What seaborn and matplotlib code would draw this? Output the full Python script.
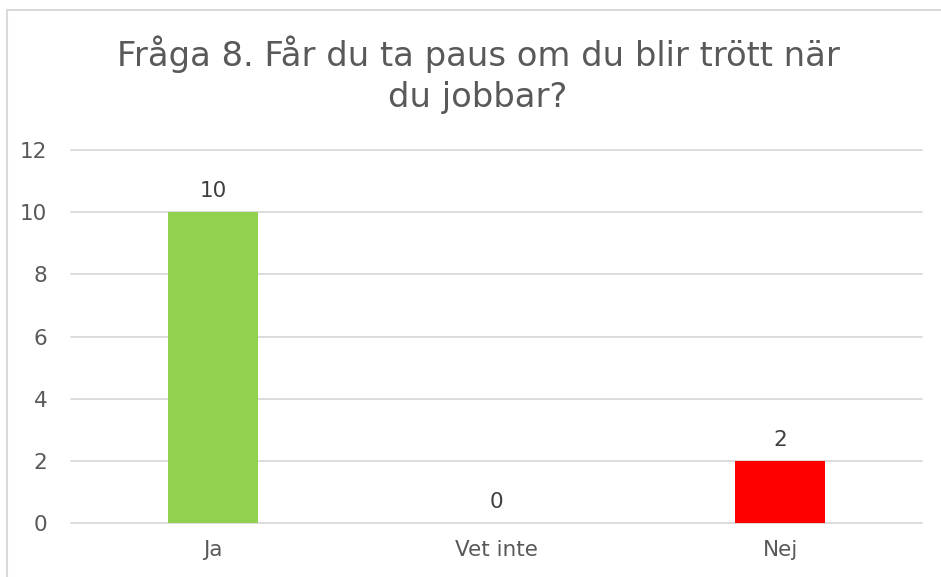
import matplotlib
matplotlib.use("Agg")
import matplotlib.pyplot as plt
import seaborn as sns
import pandas as pd
from matplotlib.patches import Rectangle

categories = ["Ja", "Vet inte", "Nej"]
values = [10, 0, 2]
colors = ["#92D050", "#92D050", "#FF0000"]
yticks = [0, 2, 4, 6, 8, 10, 12]
title_lines = ["Fråga 8. Får du ta paus om du blir trött när", "du jobbar?"]

sns.set_theme(style="white")
plt.rcParams['font.family'] = ['DejaVu Sans']

df = pd.DataFrame({"cat": categories, "val": values})

fig = plt.figure(figsize=(9.41, 5.77), dpi=100)
ax = fig.add_axes([0.0755, 0.0936, 0.9045, 0.6464])
sns.barplot(data=df, x="cat", y="val", hue="cat", palette=colors, legend=False,
            width=0.317, ax=ax, saturation=1, zorder=3, linewidth=0)

ax.set_ylim(0, 12)
ax.set_xlim(-0.5, 2.5)
ax.set_yticks(yticks)
ax.yaxis.grid(True, color="#D9D9D9", linewidth=1.3, zorder=0)
for gl in ax.get_ygridlines():
    gl.set_clip_on(False)
ax.set_axisbelow(True)
for s in ax.spines.values():
    s.set_visible(False)
ax.set_xlabel("")
ax.set_ylabel("")
ax.tick_params(axis="both", length=0, labelsize=15.5, labelcolor="#595959")
ax.tick_params(axis="y", pad=17)
ax.tick_params(axis="x", pad=12)

for i, v in enumerate(values):
    ax.annotate(str(v), (i, v), xytext=(0, 8), textcoords="offset points",
                ha="center", va="bottom", fontsize=15.5, color="#404040")

fig.text(0.508, 1 - 54/577, title_lines[0], ha="center", va="center", fontsize=24.3,
         color="#595959")
fig.text(0.508, 1 - 98/577, title_lines[1], ha="center", va="center", fontsize=24.3,
         color="#595959")

fig.patches.append(Rectangle((7/941, -0.1), 1.2, 1 - 10/577 + 0.1,
                             transform=fig.transFigure, fill=False,
                             edgecolor="#D9D9D9", linewidth=1.5))

fig.savefig("out.png", dpi=100)
